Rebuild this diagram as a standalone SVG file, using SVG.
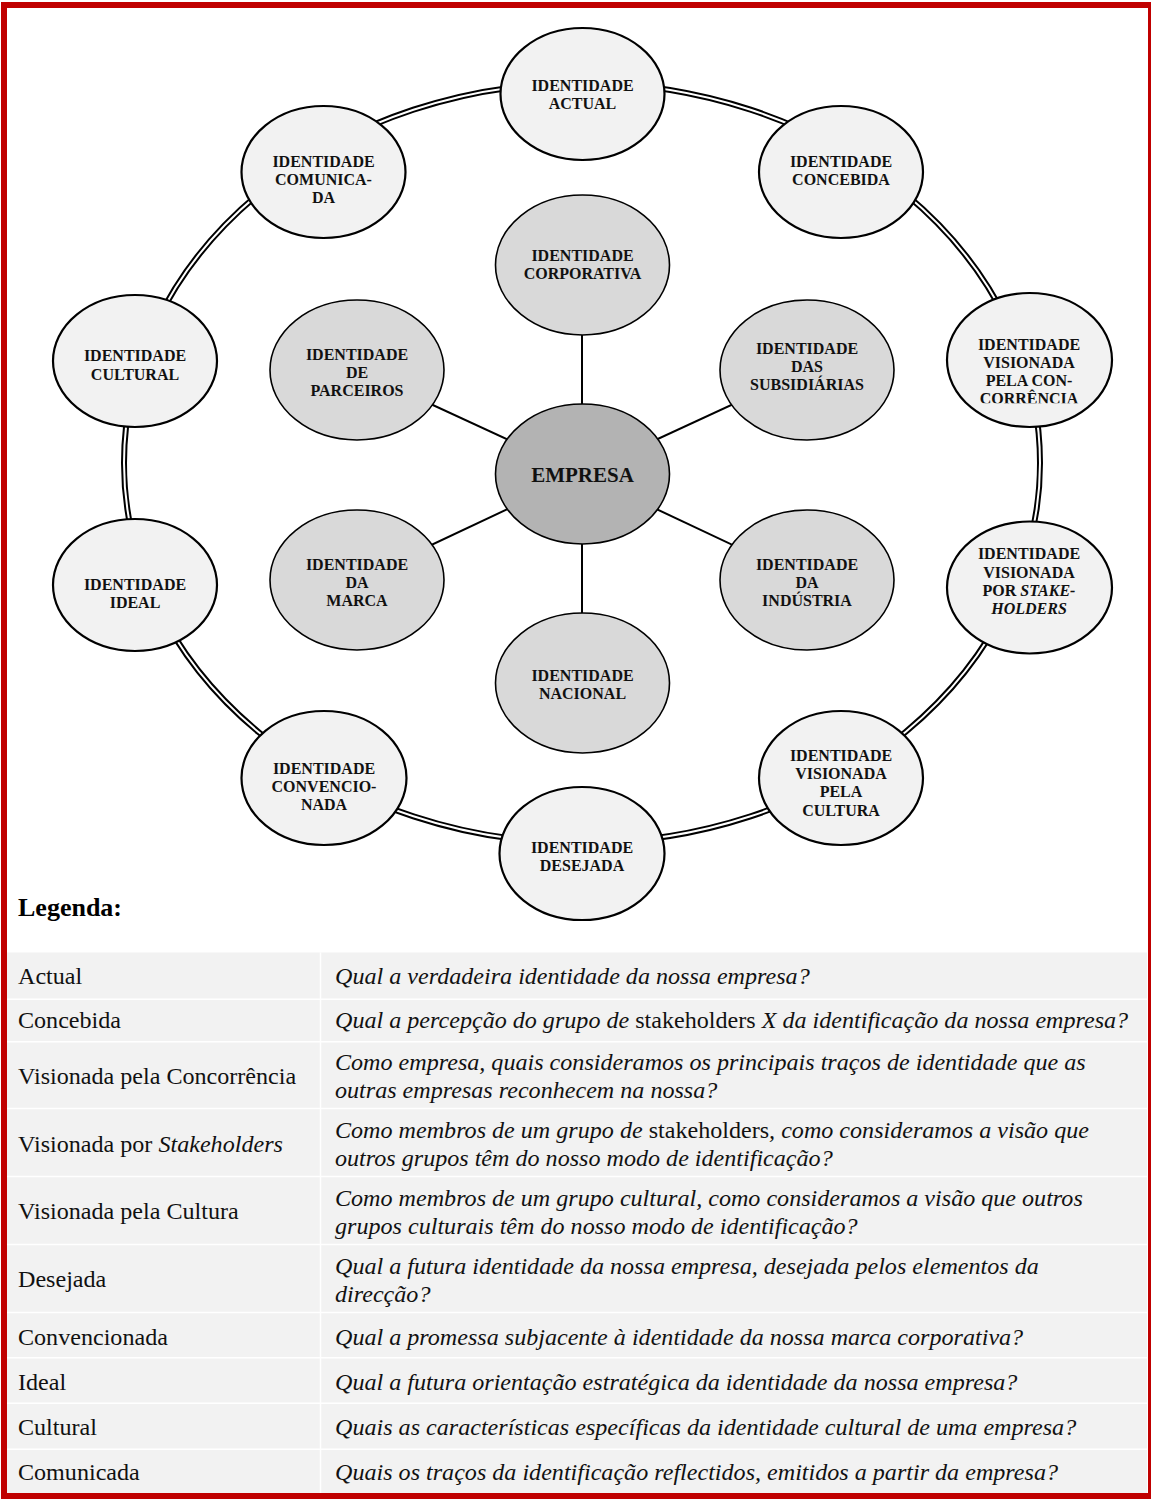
<svg xmlns="http://www.w3.org/2000/svg" width="1151" height="1499" viewBox="0 0 1151 1499">
  <style>
    .outer { fill: #f2f2f2; stroke: #000; stroke-width: 2.2; }
    .inner { fill: #d9d9d9; stroke: #000; stroke-width: 1.6; }
    .core { fill: #b3b3b3; stroke: #000; stroke-width: 1.6; }
    .lbl { font-family: "Liberation Serif", "Times New Roman", serif; font-weight: bold; font-size: 16px; fill: #111; text-anchor: middle; }
    .big { font-size: 21px; }
    .spoke { stroke: #000; stroke-width: 2; fill: none; }
    .ring-o { fill: none; stroke: #000; stroke-width: 6; }
    .ring-i { fill: none; stroke: #fff; stroke-width: 2; }
    .cell { fill: #f2f2f2; }
    .sep { stroke: #fff; stroke-width: 1.5; }
    .t { font-family: "Liberation Serif", "Times New Roman", serif; font-size: 24.1px; fill: #111; }
    .q { font-style: italic; }
    .up { font-style: normal; }
    .it { font-style: italic; }
  </style>
  <defs>
    <clipPath id="clip-concorrencia">
      <rect x="940" y="290" width="180" height="113.3"/>
    </clipPath>
  </defs>

  <rect x="0" y="0" width="1151" height="1499" fill="#fff"/>

  <!-- connectors: outer double ring and spokes from the centre -->
  <g id="connectors">
    <ellipse class="ring-o" cx="582" cy="463" rx="458" ry="380"/>
    <ellipse class="ring-i" cx="582" cy="463" rx="458" ry="380"/>
    <line class="spoke" x1="582" y1="474" x2="582" y2="265"/>
    <line class="spoke" x1="582" y1="474" x2="582" y2="683"/>
    <line class="spoke" x1="582" y1="474" x2="357" y2="370"/>
    <line class="spoke" x1="582" y1="474" x2="807" y2="370"/>
    <line class="spoke" x1="582" y1="474" x2="357" y2="580"/>
    <line class="spoke" x1="582" y1="474" x2="807" y2="580"/>
  </g>

  <!-- outer ring nodes -->
  <g id="n-actual">
    <ellipse class="outer" cx="582.5" cy="94" rx="82" ry="66"/>
    <text class="lbl" x="582.5" y="91">IDENTIDADE</text>
    <text class="lbl" x="582.5" y="109">ACTUAL</text>
  </g>
  <g id="n-concebida">
    <ellipse class="outer" cx="841" cy="172" rx="82" ry="66"/>
    <text class="lbl" x="841" y="167">IDENTIDADE</text>
    <text class="lbl" x="841" y="185">CONCEBIDA</text>
  </g>
  <g id="n-concorrencia">
    <ellipse class="outer" cx="1029.5" cy="360" rx="82.5" ry="67"/>
    <g clip-path="url(#clip-concorrencia)">
      <text class="lbl" x="1029" y="350">IDENTIDADE</text>
      <text class="lbl" x="1029" y="368">VISIONADA</text>
      <text class="lbl" x="1029" y="386">PELA CON-</text>
      <text class="lbl" x="1029" y="404">CORRÊNCIA</text>
    </g>
  </g>
  <g id="n-stakeholders">
    <ellipse class="outer" cx="1029.5" cy="587.5" rx="82.5" ry="66"/>
    <text class="lbl" x="1029" y="559">IDENTIDADE</text>
    <text class="lbl" x="1029" y="577.5">VISIONADA</text>
    <text class="lbl" x="1029" y="595.5">POR <tspan class="it">STAKE-</tspan></text>
    <text class="lbl it" x="1029" y="614">HOLDERS</text>
  </g>
  <g id="n-cultura">
    <ellipse class="outer" cx="841" cy="778" rx="82" ry="67"/>
    <text class="lbl" x="841" y="761">IDENTIDADE</text>
    <text class="lbl" x="841" y="779">VISIONADA</text>
    <text class="lbl" x="841" y="797">PELA</text>
    <text class="lbl" x="841" y="816">CULTURA</text>
  </g>
  <g id="n-desejada">
    <ellipse class="outer" cx="582" cy="853.5" rx="82.5" ry="66.5"/>
    <text class="lbl" x="582" y="852.5">IDENTIDADE</text>
    <text class="lbl" x="582" y="870.5">DESEJADA</text>
  </g>
  <g id="n-convencionada">
    <ellipse class="outer" cx="324" cy="778" rx="82.5" ry="67"/>
    <text class="lbl" x="324" y="774">IDENTIDADE</text>
    <text class="lbl" x="324" y="792">CONVENCIO-</text>
    <text class="lbl" x="324" y="809.5">NADA</text>
  </g>
  <g id="n-ideal">
    <ellipse class="outer" cx="135" cy="585" rx="82" ry="66"/>
    <text class="lbl" x="135" y="590">IDENTIDADE</text>
    <text class="lbl" x="135" y="608">IDEAL</text>
  </g>
  <g id="n-cultural">
    <ellipse class="outer" cx="135" cy="361" rx="82" ry="66"/>
    <text class="lbl" x="135" y="361">IDENTIDADE</text>
    <text class="lbl" x="135" y="380">CULTURAL</text>
  </g>
  <g id="n-comunicada">
    <ellipse class="outer" cx="323.5" cy="172" rx="82" ry="66"/>
    <text class="lbl" x="323.5" y="167">IDENTIDADE</text>
    <text class="lbl" x="323.5" y="185">COMUNICA-</text>
    <text class="lbl" x="323.5" y="203">DA</text>
  </g>

  <!-- inner nodes -->
  <g id="n-corporativa">
    <ellipse class="inner" cx="582.5" cy="265" rx="87" ry="70"/>
    <text class="lbl" x="582.5" y="261">IDENTIDADE</text>
    <text class="lbl" x="582.5" y="279">CORPORATIVA</text>
  </g>
  <g id="n-parceiros">
    <ellipse class="inner" cx="357" cy="370" rx="87" ry="70"/>
    <text class="lbl" x="357" y="360">IDENTIDADE</text>
    <text class="lbl" x="357" y="378">DE</text>
    <text class="lbl" x="357" y="396">PARCEIROS</text>
  </g>
  <g id="n-subsidiarias">
    <ellipse class="inner" cx="807" cy="370" rx="87" ry="70"/>
    <text class="lbl" x="807" y="354">IDENTIDADE</text>
    <text class="lbl" x="807" y="372">DAS</text>
    <text class="lbl" x="807" y="390">SUBSIDIÁRIAS</text>
  </g>
  <g id="n-marca">
    <ellipse class="inner" cx="357" cy="580" rx="87" ry="70"/>
    <text class="lbl" x="357" y="570">IDENTIDADE</text>
    <text class="lbl" x="357" y="588">DA</text>
    <text class="lbl" x="357" y="606">MARCA</text>
  </g>
  <g id="n-industria">
    <ellipse class="inner" cx="807" cy="580" rx="87" ry="70"/>
    <text class="lbl" x="807" y="570">IDENTIDADE</text>
    <text class="lbl" x="807" y="588">DA</text>
    <text class="lbl" x="807" y="606">INDÚSTRIA</text>
  </g>
  <g id="n-nacional">
    <ellipse class="inner" cx="582.5" cy="683" rx="87" ry="70"/>
    <text class="lbl" x="582.5" y="681">IDENTIDADE</text>
    <text class="lbl" x="582.5" y="699">NACIONAL</text>
  </g>
  <g id="n-empresa">
    <ellipse class="core" cx="582.5" cy="474" rx="87" ry="70"/>
    <text class="lbl big" x="582.5" y="482">EMPRESA</text>
  </g>

  <!-- legend -->
  <g id="legend">
    <text x="18" y="916" font-family="Liberation Serif, serif" font-weight="bold" font-size="26" fill="#000">Legenda:</text>
    <rect class="cell" x="7" y="952.5" width="1140" height="540.5"/>
    <g class="sep">
      <line x1="320.5" y1="952.5" x2="320.5" y2="1493"/>
      <line x1="7" y1="999.3" x2="1147" y2="999.3"/>
      <line x1="7" y1="1041.7" x2="1147" y2="1041.7"/>
      <line x1="7" y1="1108.5" x2="1147" y2="1108.5"/>
      <line x1="7" y1="1176.5" x2="1147" y2="1176.5"/>
      <line x1="7" y1="1244.5" x2="1147" y2="1244.5"/>
      <line x1="7" y1="1312.5" x2="1147" y2="1312.5"/>
      <line x1="7" y1="1357.7" x2="1147" y2="1357.7"/>
      <line x1="7" y1="1403.3" x2="1147" y2="1403.3"/>
      <line x1="7" y1="1449.3" x2="1147" y2="1449.3"/>
    </g>

    <text class="t" x="18" y="984">Actual</text>
    <text class="t q" x="335" y="984">Qual a verdadeira identidade da nossa empresa?</text>

    <text class="t" x="18" y="1028">Concebida</text>
    <text class="t q" x="335" y="1028">Qual a percepção do grupo de <tspan class="up">stakeholders</tspan> X da identificação da nossa empresa?</text>

    <text class="t" x="18" y="1084">Visionada pela Concorrência</text>
    <text class="t q" x="335" y="1070">Como empresa, quais consideramos os principais traços de identidade que as</text>
    <text class="t q" x="335" y="1098">outras empresas reconhecem na nossa?</text>

    <text class="t" x="18" y="1152">Visionada por <tspan class="it">Stakeholders</tspan></text>
    <text class="t q" x="335" y="1138">Como membros de um grupo de <tspan class="up">stakeholders</tspan>, como consideramos a visão que</text>
    <text class="t q" x="335" y="1166">outros grupos têm do nosso modo de identificação?</text>

    <text class="t" x="18" y="1219">Visionada pela Cultura</text>
    <text class="t q" x="335" y="1206">Como membros de um grupo cultural, como consideramos a visão que outros</text>
    <text class="t q" x="335" y="1234">grupos culturais têm do nosso modo de identificação?</text>

    <text class="t" x="18" y="1287">Desejada</text>
    <text class="t q" x="335" y="1274">Qual a futura identidade da nossa empresa, desejada pelos elementos da</text>
    <text class="t q" x="335" y="1302">direcção?</text>

    <text class="t" x="18" y="1345">Convencionada</text>
    <text class="t q" x="335" y="1345">Qual a promessa subjacente à identidade da nossa marca corporativa?</text>

    <text class="t" x="18" y="1390">Ideal</text>
    <text class="t q" x="335" y="1390">Qual a futura orientação estratégica da identidade da nossa empresa?</text>

    <text class="t" x="18" y="1435">Cultural</text>
    <text class="t q" x="335" y="1435">Quais as características específicas da identidade cultural de uma empresa?</text>

    <text class="t" x="18" y="1480">Comunicada</text>
    <text class="t q" x="335" y="1480">Quais os traços da identificação reflectidos, emitidos a partir da empresa?</text>
  </g>

  <!-- red page frame -->
  <rect x="4" y="5" width="1147" height="1491" fill="none" stroke="#c00000" stroke-width="6"/>
</svg>
